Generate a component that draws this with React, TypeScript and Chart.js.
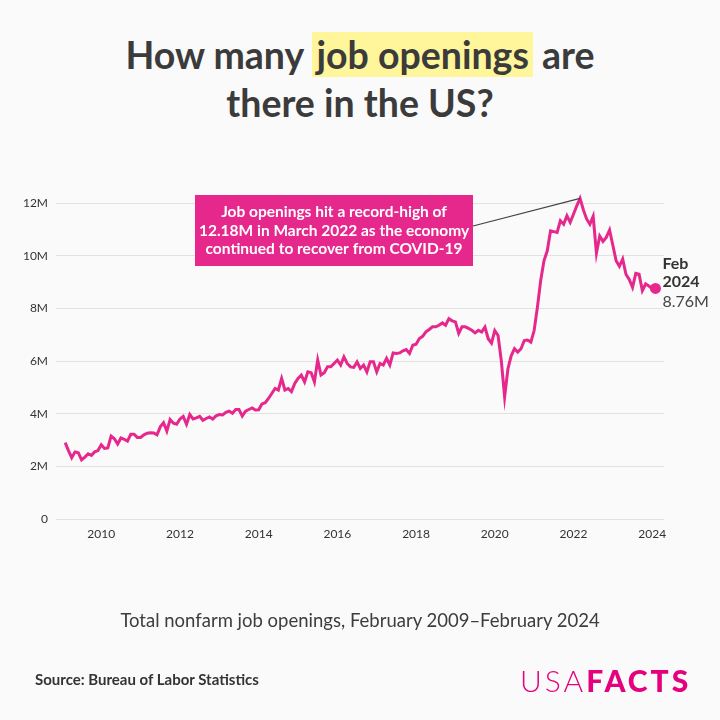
import React, { useEffect, useRef } from "react";
import { Chart, registerables } from "chart.js";

Chart.register(...registerables);

// First month of the series (February 2009)
const START_YEAR = 2009;
const START_MONTH = 2;

// Total nonfarm job openings, millions, Feb 2009 – Feb 2024 (monthly)
const OPENINGS: number[] = [
  2.9, 2.6, 2.33, 2.55, 2.52, 2.25, 2.35, 2.48, 2.42, 2.55, 2.6, 2.82,
  2.68, 2.7, 3.15, 3.05, 2.85, 3.08, 3.03, 2.96, 3.22, 3.22, 3.1, 3.1,
  3.2, 3.26, 3.28, 3.27, 3.2, 3.5, 3.66, 3.34, 3.78, 3.64, 3.6, 3.8,
  3.9, 3.6, 3.97, 3.8, 3.84, 3.9, 3.75, 3.82, 3.88, 3.8, 3.92, 3.97,
  3.95, 4.05, 4.1, 4.02, 4.16, 4.16, 3.91, 4.1, 4.16, 4.22, 4.14, 4.15,
  4.37, 4.42, 4.58, 4.77, 4.96, 4.9, 5.34, 4.9, 4.96, 4.84, 5.15, 5.34,
  5.47, 5.21, 5.59, 5.56, 5.21, 6.04, 5.47, 5.56, 5.78, 5.78, 5.91, 6.04,
  5.85, 6.16, 5.91, 5.78, 5.76, 5.97, 5.72, 5.85, 5.59, 5.97, 5.97, 5.59,
  5.91, 5.85, 6.1, 5.85, 6.31, 6.29, 6.31, 6.39, 6.44, 6.29, 6.6, 6.64,
  6.86, 6.94, 7.11, 7.2, 7.3, 7.3, 7.36, 7.45, 7.36, 7.61, 7.53, 7.49,
  7.05, 7.3, 7.3, 7.24, 7.17, 7.07, 7.17, 7.1, 7.29, 6.85, 6.68, 7.16,
  6.97, 6.0, 4.64, 5.7, 6.2, 6.47, 6.34, 6.47, 6.78, 6.8, 6.72, 7.16,
  8.05, 9.06, 9.81, 10.19, 10.95, 10.92, 10.89, 11.33, 11.2, 11.52, 11.27, 11.58,
  11.9, 12.18, 11.75, 11.4, 11.2, 11.5, 10.1, 10.75, 10.55, 10.7, 10.98, 10.4,
  9.81, 9.6, 9.88, 9.3, 9.1, 8.8, 9.33, 9.3, 8.68, 8.93, 8.85, 8.75,
  8.76,
];

const X_TICKS = [2010, 2012, 2014, 2016, 2018, 2020, 2022, 2024];
const Y_TICKS = [0, 2, 4, 6, 8, 10, 12];

const PEAK_INDEX = 157; // March 2022
const ANNOTATION_LINES = [
  "Job openings hit a record-high of",
  "12.18M in March 2022 as the economy",
  "continued to recover from COVID-19",
];
const END_LABEL = ["Feb", "2024"];
const END_VALUE = "8.76M";

const PINK = "#e6278c";
const FONT = "Lato, 'Noto Sans', sans-serif";

export default function App() {
  const ref = useRef<HTMLCanvasElement>(null);

  useEffect(() => {
    if (!ref.current) return;
    const points = OPENINGS.map((v, i) => ({
      x: START_YEAR + (START_MONTH - 1 + i) / 12,
      y: v,
    }));
    const last = points.length - 1;

    const annotate = {
      id: "annotate",
      afterDatasetsDraw(chart: any) {
        const ctx = chart.ctx;
        const meta = chart.getDatasetMeta(0);
        const peak = meta.data[PEAK_INDEX];
        const end = meta.data[last];
        ctx.save();
        const bx = 195, by = 195, bw = 278, bh = 71;
        ctx.strokeStyle = "#444";
        ctx.lineWidth = 1.2;
        ctx.beginPath();
        ctx.moveTo(bx + bw, by + 31);
        ctx.lineTo(peak.x, peak.y);
        ctx.stroke();
        ctx.fillStyle = PINK;
        ctx.fillRect(bx, by, bw, bh);
        ctx.fillStyle = "#ffffff";
        ctx.font = `bold 15.5px ${FONT}`;
        ctx.textAlign = "center";
        ctx.textBaseline = "middle";
        ANNOTATION_LINES.forEach((t, k) => {
          ctx.fillText(t, bx + bw / 2, by + 17 + k * 18.5);
        });
        ctx.textAlign = "left";
        ctx.textBaseline = "alphabetic";
        ctx.fillStyle = "#333";
        ctx.font = `bold 16px ${FONT}`;
        ctx.fillText(END_LABEL[0], end.x + 7, end.y - 19);
        ctx.fillText(END_LABEL[1], end.x + 7, end.y - 1);
        ctx.font = `16px ${FONT}`;
        ctx.fillStyle = "#444";
        ctx.fillText(END_VALUE, end.x + 7, end.y + 19);
        ctx.restore();
      },
    };

    const chart = new Chart(ref.current, {
      type: "line",
      data: {
        datasets: [
          {
            data: points,
            borderColor: PINK,
            backgroundColor: PINK,
            borderWidth: 3,
            tension: 0,
            pointRadius: (c: any) => (c.dataIndex === last ? 4 : 0),
            pointHoverRadius: 0,
          },
        ],
      },
      options: {
        animation: false,
        responsive: false,
        devicePixelRatio: 1,
        layout: { padding: { left: 8, top: 190, right: 56, bottom: 171 } },
        plugins: { legend: { display: false }, tooltip: { enabled: false } },
        scales: {
          x: {
            type: "linear",
            min: 2008.85,
            max: 2024.3,
            grid: { display: false },
            border: { display: false },
            ticks: {
              color: "#333",
              font: { family: FONT, size: 12 },
              padding: 0,
              callback: (v: any) => String(v),
            },
            afterBuildTicks: (axis: any) => {
              axis.ticks = X_TICKS.map((v) => ({ value: v }));
            },
            afterFit: (s: any) => {
              s.height = 30;
            },
          },
          y: {
            min: 0,
            max: 12.5,
            grid: { color: "#e2e2e2", lineWidth: 1, drawTicks: false },
            border: { display: false },
            ticks: {
              color: "#333",
              font: { family: FONT, size: 12 },
              padding: 8,
              callback: (v: any) => (v === 0 ? "0" : `${v}M`),
            },
            afterBuildTicks: (axis: any) => {
              axis.ticks = Y_TICKS.map((v) => ({ value: v }));
            },
            afterFit: (s: any) => {
              s.width = 48;
            },
          },
        },
      },
      plugins: [annotate],
    });
    return () => chart.destroy();
  }, []);

  return (
    <div
      style={{
        position: "fixed",
        left: 0,
        top: 0,
        width: 720,
        height: 720,
        background: "#fafafa",
        fontFamily: FONT,
        overflow: "hidden",
      }}
    >
      <div
        style={{
          position: "absolute",
          top: 31,
          left: 0,
          width: 720,
          textAlign: "center",
          fontWeight: 700,
          fontSize: 37.5,
          lineHeight: "48px",
          color: "#3b3b3b",
        }}
      >
        How many{" "}
        <span style={{ background: "#fff59a", padding: "0 4px" }}>job openings</span>{" "}
        are
        <br />
        there in the US?
      </div>
      <canvas ref={ref} width={720} height={720} style={{ position: "absolute", left: 0, top: 0, width: 720, height: 720 }} />
      <div
        style={{
          position: "absolute",
          top: 609,
          left: 0,
          width: 720,
          textAlign: "center",
          fontSize: 18.5,
          color: "#3d3d3d",
        }}
      >
        Total nonfarm job openings, February 2009–February 2024
      </div>
      <div
        style={{
          position: "absolute",
          top: 670,
          left: 35,
          fontSize: 15,
          fontWeight: 700,
          color: "#333",
        }}
      >
        Source: Bureau of Labor Statistics
      </div>
      <div
        style={{
          position: "absolute",
          top: 663,
          left: 520,
          fontSize: 30,
          color: "#e5007d",
          letterSpacing: 3,
          lineHeight: "34px",
        }}
      >
        <span style={{ fontWeight: 300 }}>USA</span>
        <span style={{ fontWeight: 900 }}>FACTS</span>
      </div>
    </div>
  );
}
